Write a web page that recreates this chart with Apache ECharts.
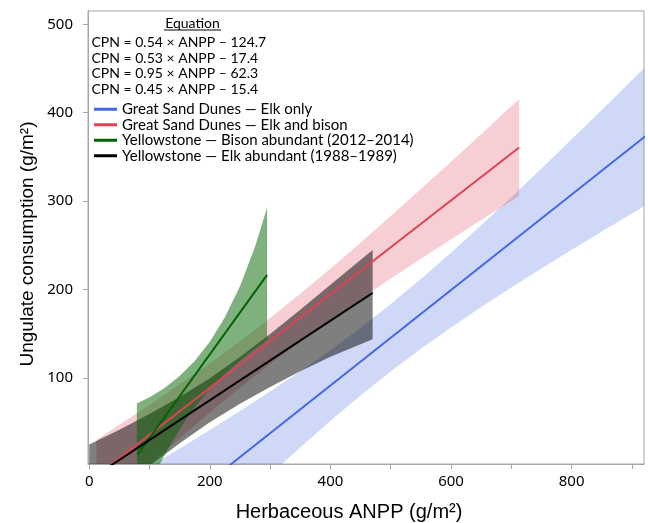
<!DOCTYPE html>
<html>
<head>
<meta charset="utf-8">
<script src="https://cdn.jsdelivr.net/npm/echarts@6/dist/echarts.min.js"></script>
<style>html,body{margin:0;padding:0;background:#fff}#c{width:648px;height:523px}</style>
</head>
<body>
<div id="c"></div>
<script>
// ---- tick labels ----
const xTickLabels = [0, 200, 400, 600, 800];
const xTickMarks = [0, 100, 200, 300, 400, 500, 600, 700, 800, 900];
const yTickLabels = [100, 200, 300, 400, 500];

// ---- legend / equations ----
const seriesNames = [
  'Great Sand Dunes \u2014 Elk only',
  'Great Sand Dunes \u2014 Elk and bison',
  'Yellowstone \u2014 Bison abundant (2012\u20132014)',
  'Yellowstone \u2014 Elk abundant (1988\u20131989)'
];
const equations = [
  'CPN = 0.54 \u00d7 ANPP \u2013 124.7',
  'CPN = 0.53 \u00d7 ANPP \u2013 17.4',
  'CPN = 0.95 \u00d7 ANPP \u2013 62.3',
  'CPN = 0.45 \u00d7 ANPP \u2013 15.4'
];

// ---- fitted lines (endpoints) ----
const blueLineX = [225, 925];
const blueLineY = [-3.2, 374.8];
const redLineX = [12, 713];
const redLineY = [-11.0, 360.5];
const greenLineX = [80, 295];
const greenLineY = [13.0, 216.5];
const blackLineX = [0, 470];
const blackLineY = [-15.4, 196.1];

// ---- confidence bands (upper / lower edges) ----
const blueBandX  = [100, 150, 200, 250, 300, 350, 400, 450, 500, 550, 600, 650, 700, 750, 800, 850, 900, 950];
const blueBandHi = [-0.6, 20.0, 41.0, 62.4, 84.4, 107.3, 131.3, 156.6, 183.4, 211.8, 241.6, 272.5, 304.3, 336.8, 369.8, 403.1, 436.7, 470.4];
const blueBandLo = [-140.8, -107.4, -74.4, -41.8, -9.8, 21.3, 51.3, 80.0, 107.2, 132.8, 157.0, 180.1, 202.3, 223.8, 244.8, 265.5, 285.9, 306.2];

const redBandX  = [12, 50, 100, 150, 200, 250, 300, 350, 400, 450, 500, 550, 600, 650, 700, 713];
const redBandHi = [30.0, 46.9, 69.4, 92.6, 116.6, 141.5, 167.6, 195.0, 223.5, 252.9, 283.0, 313.5, 344.5, 375.7, 407.1, 415.3];
const redBandLo = [-52.0, -28.7, 1.8, 31.6, 60.7, 88.7, 115.6, 141.2, 165.7, 189.3, 212.3, 234.7, 256.7, 278.5, 300.1, 305.7];

const grayBandX  = [0, 50, 100, 150, 200, 250, 300, 350, 400, 470];
const grayBandHi = [24.6, 41.3, 59, 78.2, 99.6, 123.5, 149.5, 176.9, 205.4, 244.5];
const grayBandLo = [-55.4, -27.1, 0.2, 26, 49.6, 70.7, 89.7, 107.3, 123.8, 143.5];

const greenBandX  = [79, 100, 125, 150, 175, 200, 225, 250, 275, 295];
const greenBandHi = [71, 78.1, 88.6, 102, 119, 140.8, 168.4, 203.5, 248.3, 292.8];
const greenBandLo = [-48, -20.3, 12.7, 41.8, 66.9, 87.5, 104.7, 119.4, 132.8, 142.9];

function pairs(xs, ys) { return xs.map((x, i) => [x, ys[i]]); }

function band(xs, lo, hi, color, z) {
  return {
    type: 'custom', silent: true, clip: true, z: z,
    data: [[xs[0], lo[0]]],
    renderItem: function (params, api) {
      const pts = [];
      for (let i = 0; i < xs.length; i++) pts.push(api.coord([xs[i], hi[i]]));
      for (let i = xs.length - 1; i >= 0; i--) pts.push(api.coord([xs[i], lo[i]]));
      return { type: 'polygon', shape: { points: pts }, style: { fill: color } };
    }
  };
}

function line(name, xs, ys, color, z) {
  return {
    type: 'line', name: name, data: pairs(xs, ys), showSymbol: false, symbol: 'none',
    clip: true, silent: true, z: z,
    lineStyle: { color: color, width: 2 }, itemStyle: { color: color }
  };
}

const chart = echarts.init(document.getElementById('c'), null, { renderer: 'canvas' });
const axisColor = '#a6a6a6';
const eqFont = 'Lato';
const eqSize = 14;
const legSize = 15;

const graphics = [
  { type: 'text', style: { text: 'Equation', x: 192.5, y: 23, align: 'center', verticalAlign: 'middle', font: eqSize + 'px ' + eqFont, fill: '#000' } },
  { type: 'line', shape: { x1: 164, y1: 30, x2: 221, y2: 30 }, style: { stroke: '#000', lineWidth: 1 } },
  { type: 'text', style: { text: 'Herbaceous ANPP (g/m\u00b2)', x: 349, y: 512, align: 'center', verticalAlign: 'middle', font: '20px "Liberation Sans"', fill: '#000' } },
  { type: 'text', rotation: Math.PI / 2, x: 28, y: 244, style: { text: 'Ungulate consumption (g/m\u00b2)', x: 0, y: 0, align: 'center', verticalAlign: 'middle', font: '19px "Liberation Sans"', fill: '#000' } }
];
const eqY = [42.5, 58, 73.5, 89];
equations.forEach((t, i) => graphics.push({ type: 'text', style: { text: t, x: 91.5, y: eqY[i], align: 'left', verticalAlign: 'middle', font: eqSize + 'px ' + eqFont, fill: '#000' } }));

chart.setOption({
  animation: false,
  backgroundColor: '#fff',
  grid: { left: 88, right: 4, top: 11, bottom: 59, show: true, borderColor: axisColor, borderWidth: 1, backgroundColor: 'transparent' },
  xAxis: {
    type: 'value', min: -2, max: 920,
    axisLine: { show: true, onZero: false, lineStyle: { color: axisColor, width: 1 } },
    axisTick: { show: true, length: 5, customValues: xTickMarks, lineStyle: { color: axisColor } },
    axisLabel: { customValues: xTickLabels, margin: 10, color: '#000', fontFamily: 'Noto Sans', fontSize: 15 },
    splitLine: { show: false }
  },
  yAxis: {
    type: 'value', min: 2.5, max: 515,
    axisLine: { show: true, onZero: false, lineStyle: { color: axisColor, width: 1 } },
    axisTick: { show: true, length: 5, customValues: yTickLabels, lineStyle: { color: axisColor } },
    axisLabel: { customValues: yTickLabels, margin: 15, color: '#000', fontFamily: 'Noto Sans', fontSize: 15 },
    splitLine: { show: false }
  },
  legend: {
    data: seriesNames, orient: 'vertical', left: 94, top: 101.5, padding: 0,
    icon: 'rect', itemWidth: 23, itemHeight: 3, itemGap: 0,
    textStyle: { fontFamily: eqFont, fontSize: legSize, color: '#000', lineHeight: 15.5 },
    selectedMode: false
  },
  graphic: graphics,
  series: [
    band(blueBandX, blueBandLo, blueBandHi, 'rgba(65,105,225,0.25)', 1),
    band(redBandX, redBandLo, redBandHi, 'rgba(220,60,80,0.25)', 2),
    band(grayBandX, grayBandLo, grayBandHi, 'rgba(0,0,0,0.5)', 3),
    band(greenBandX, greenBandLo, greenBandHi, 'rgba(0,100,0,0.5)', 4),
    line(seriesNames[0], blueLineX, blueLineY, '#4169e1', 10),
    line(seriesNames[1], redLineX, redLineY, '#dc4455', 11),
    line(seriesNames[2], greenLineX, greenLineY, '#006400', 12),
    line(seriesNames[3], blackLineX, blackLineY, '#000000', 13)
  ]
});
</script>
</body>
</html>
